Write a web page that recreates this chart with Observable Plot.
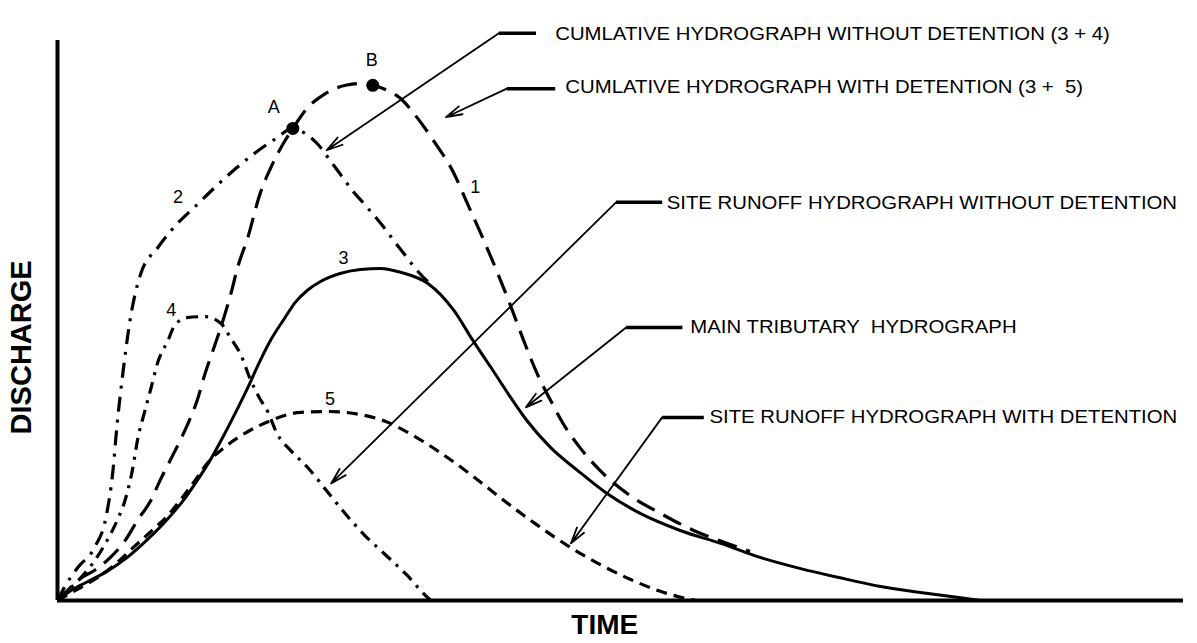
<!DOCTYPE html>
<html>
<head>
<meta charset="utf-8">
<script src="https://cdn.jsdelivr.net/npm/d3@7"></script>
<script src="https://cdn.jsdelivr.net/npm/@observablehq/plot@0.6"></script>
<style>
  html, body { margin: 0; padding: 0; background: #fff; }
  #chart svg { display: block; }
  #chart svg text { white-space: pre; }
</style>
</head>
<body>
<div id="chart"></div>
<script>
// ---- Curve 3: main tributary hydrograph (solid)
const mainTime = [0,1.2,2.7,4.4,6.2,8.0,9.8,11.3,12.4,13.6,14.8,16.0,16.9,17.8,18.9,20.2,21.1,22.2,23.4,25.1,26.9,28.7,30.5,32.9,35.2,36.9,38.5,40.0,41.7,43.8,46.2,48.8,51.8,55.3,58.9,62.4,66.0,69.4,73.1,76.8,80.2,82.0];
const mainFlow = [0,1.8,3.4,5.2,7.7,10.9,14.6,18.2,21.4,25.2,29.6,34.3,38.0,42.0,46.4,50.5,53.2,55.4,57.0,58.4,59.1,59.3,58.6,56.6,51.8,46.4,41.6,37.0,32.1,27.3,23.2,19.1,15.5,12.5,10.2,7.7,5.7,4.1,2.5,1.4,0.5,0];

// ---- Curve 4: site runoff without detention (dash-dot)
const siteNoDetTime = [0,1.2,2.4,3.3,4.4,5.3,6.0,6.7,7.1,7.7,8.3,8.9,9.8,10.4,11.5,13.1,14.5,15.4,16.3,17.1,17.9,18.7,19.5,20.7,22.2,23.9,25.6,27.3,29.0,31.0,32.9,33.2];
const siteNoDetFlow = [0,2.3,4.8,7.1,10.7,14.3,17.9,23.8,28.6,33.4,37.9,42.5,46.4,49.1,50.5,50.7,49.5,46.8,43.8,39.6,36.3,33.6,29.8,26.8,23.8,19.6,15.4,11.6,8.4,4.6,0.5,0];

// ---- Curve 5: site runoff with detention (short dash)
const siteDetTime = [0,1.6,3.4,5.2,6.9,8.4,9.8,10.9,12.2,13.3,14.8,16.6,18.9,21.6,24.2,26.9,29.1,31.3,34.0,36.7,39.3,42.3,45.3,48.2,50.9,53.6,56.2,56.7];
const siteDetFlow = [0,1.8,3.9,6.6,9.8,12.5,15.2,17.9,21.4,24.5,27.3,29.8,32.1,33.6,33.75,33.2,32.0,29.8,26.4,22.5,18.4,13.9,9.8,6.4,3.75,1.6,0.2,0];

// ---- Curve 2: cumulative without detention (3 + 4) (dash-dot)
const cumNoDetTime = [0,0.6,1.8,3.3,4.3,4.9,5.3,5.8,6.4,7.4,8.9,10.5,12.3,14.0,15.8,17.6,19.4,20.9,22.0,23.2,24.2,25.2,26.2,27.2,28.1,29.0,30.0,30.9,31.7,32.4,33.1];
const cumNoDetFlow = [0,2.3,5.9,9.5,14.8,22.7,31.6,40.5,49.5,58.4,63.0,67.0,70.5,73.8,77.1,80.0,82.5,84.3,83.4,81.3,78.6,75.9,73.2,70.9,68.8,66.6,63.9,61.6,59.5,57.9,56.6];

// ---- Curve 1: cumulative with detention (3 + 5) (long dash)
const cumDetTime = [0,0.9,2.0,3.3,4.7,6.0,7.1,8.3,9.1,10.0,10.9,11.7,12.4,13.1,13.8,14.5,15.4,16.0,16.9,18.0,18.9,20.2,20.9,22.2,23.4,24.5,25.6,26.7,28.0,29.3,30.5,31.6,33.4,35.2,36.4,37.6,39.1,40.3,41.5,42.6,43.8,44.9,46.4,48.2,50.6,53.6,56.5,59.5,61.5];
const cumDetFlow = [0,1.8,3.9,5.4,7.7,10.7,14.3,17.9,21.4,25.0,28.6,32.1,35.7,40.5,44.6,48.75,54.8,59.5,64.8,72.7,77.1,82.1,84.3,88.0,90.0,91.3,92.0,92.3,92.0,91.1,89.6,87.1,82.1,76.3,70.9,65.5,58.4,52.3,45.9,40.5,35.7,31.6,27.3,23.2,19.1,15.5,12.5,10.2,8.75];

// ---- Peak points A and B
const peakNames = ["A", "B"];
const peakTime = [20.9, 28.0];
const peakFlow = [84.3, 92.0];

// ---- Curve number / peak labels
const curveLabelText = ["1", "2", "3", "4", "5", "A", "B"];
const curveLabelTime = [37.1, 10.7, 25.4, 10.1, 24.2, 19.2, 27.9];
const curveLabelFlow = [73.8, 72.0, 61.1, 51.8, 35.9, 88.0, 96.4];

// ---- Annotations (leader lines + text)
const annText = [
  "CUMLATIVE HYDROGRAPH WITHOUT DETENTION (3 + 4)",
  "CUMLATIVE HYDROGRAPH WITH DETENTION (3 +  5)",
  "SITE RUNOFF HYDROGRAPH WITHOUT DETENTION",
  "MAIN TRIBUTARY  HYDROGRAPH",
  "SITE RUNOFF HYDROGRAPH WITH DETENTION"
];
const annKneeTime = [39.2, 39.9, 49.6, 50.5, 53.7];
const annKneeFlow = [101.3, 91.4, 71.1, 48.75, 32.7];
const annBarEndTime = [42.5, 44.2, 53.7, 55.5, 57.4];
const annTipTime = [23.9, 34.5, 24.3, 41.6, 45.6];
const annTipFlow = [80.4, 86.3, 20.9, 34.5, 10.2];
const annTextTime = [44.2, 45.1, 54.1, 56.2, 57.9];
const annTextFlow = [101.1, 91.6, 70.9, 48.75, 32.7];

// ---- Axis titles
const axisTitles = ["DISCHARGE", "TIME"];
const axisTitleTime = [-3.15, 48.6];
const axisTitleFlow = [45.2, -4.3];
const axisTitleRotate = [-90, 0];

const toPts = (ts, qs) => ts.map((t, i) => ({t, q: qs[i]}));
const curves = [
  {pts: toPts(mainTime, mainFlow), dash: null, w: 3},
  {pts: toPts(siteNoDetTime, siteNoDetFlow), dash: "12,7,3,7", w: 3.2},
  {pts: toPts(siteDetTime, siteDetFlow), dash: "11,7", w: 3.2},
  {pts: toPts(cumNoDetTime, cumNoDetFlow), dash: "15,8,3,8", w: 3.2},
  {pts: toPts(cumDetTime, cumDetFlow), dash: "20,10", w: 3.2}
];

const ann = annText.map((s, i) => ({
  s, kt: annKneeTime[i], kq: annKneeFlow[i], et: annBarEndTime[i],
  tt: annTipTime[i], tq: annTipFlow[i], xt: annTextTime[i], xq: annTextFlow[i]
}));
const labels = curveLabelText.map((s, i) => ({s, t: curveLabelTime[i], q: curveLabelFlow[i]}));
const peaks = peakNames.map((s, i) => ({s, t: peakTime[i], q: peakFlow[i]}));
const titles = axisTitles.map((s, i) => ({s, t: axisTitleTime[i], q: axisTitleFlow[i], r: axisTitleRotate[i]}));

const font = "'Liberation Sans', Arial, Helvetica, sans-serif";

const marks = [
  Plot.ruleX([0], {y1: 0, y2: 100, stroke: "#000", strokeWidth: 4}),
  Plot.ruleY([0], {x1: 0, x2: 100, stroke: "#000", strokeWidth: 4})
];
for (const c of curves) {
  marks.push(Plot.line(c.pts, {
    x: "t", y: "q", curve: "monotone-x", stroke: "#000", strokeWidth: c.w,
    strokeDasharray: c.dash || undefined, strokeLinecap: "butt"
  }));
}
marks.push(
  Plot.dot(peaks, {x: "t", y: "q", r: 6.5, fill: "#000", stroke: "none"}),
  Plot.link(ann, {x1: "kt", y1: "kq", x2: "et", y2: "kq", stroke: "#000", strokeWidth: 3.5}),
  Plot.arrow(ann, {x1: "kt", y1: "kq", x2: "tt", y2: "tq", stroke: "#000", strokeWidth: 1.8, headLength: 14, headAngle: 30}),
  Plot.text(ann, {x: "xt", y: "xq", text: "s", textAnchor: "start", fontSize: 18, fontFamily: font, fill: "#000"}),
  Plot.text(labels, {x: "t", y: "q", text: "s", fontSize: 18, fontFamily: font, fill: "#000"}),
  Plot.text(titles.filter(d => d.r !== 0), {x: "t", y: "q", text: "s", rotate: -90, fontSize: 29, fontWeight: "bold", fontFamily: font, fill: "#000"}),
  Plot.text(titles.filter(d => d.r === 0), {x: "t", y: "q", text: "s", fontSize: 28, fontWeight: "bold", fontFamily: font, fill: "#000"})
);

const chart = Plot.plot({
  width: 1197,
  height: 643,
  marginLeft: 57,
  marginRight: 14,
  marginTop: 40,
  marginBottom: 43,
  x: {domain: [0, 100], axis: null},
  y: {domain: [0, 100], axis: null},
  style: {background: "#fff", fontFamily: font},
  marks
});
document.getElementById("chart").appendChild(chart);
// The reference lettering is slightly wide: stretch the annotation text horizontally.
d3.select(chart).selectAll("text")
  .filter(function() { return annText.includes(this.textContent); })
  .each(function() {
    const len = this.getComputedTextLength();
    if (len > 0) {
      this.setAttribute("textLength", (len * 1.13).toFixed(1));
      this.setAttribute("lengthAdjust", "spacingAndGlyphs");
    }
  });
</script>
</body>
</html>
